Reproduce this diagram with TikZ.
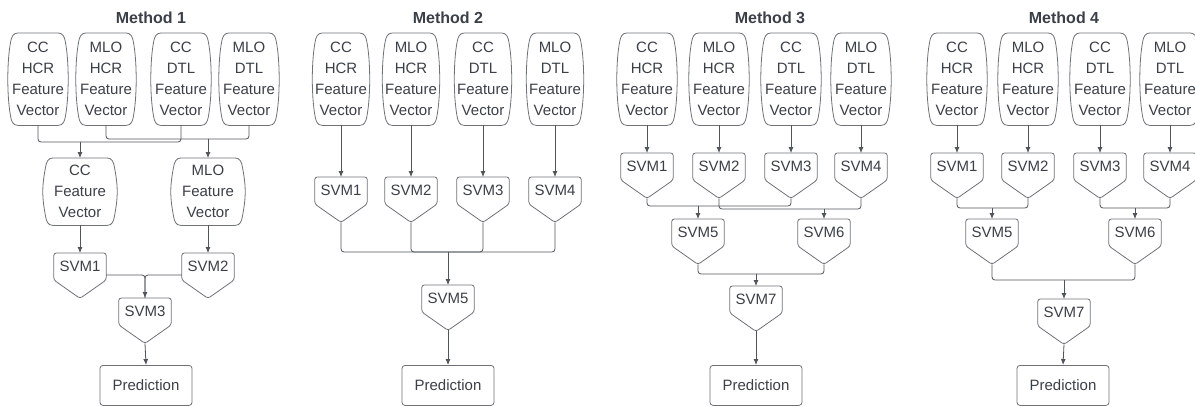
\documentclass[tikz,border=0pt]{standalone}
\usepackage{fontspec}
\setmainfont{Liberation Sans}
\usetikzlibrary{arrows.meta,calc}
\definecolor{txt}{HTML}{3B4048}
\definecolor{lin}{HTML}{50555C}
\definecolor{shp}{HTML}{6E7278}
\tikzset{
  shpline/.style={draw=shp, line width=0.8pt},
  fvnode/.style={inner sep=0pt, minimum width=#1, minimum height=92pt, align=center, text=txt,
     font=\fontsize{15}{21}\selectfont, anchor=north},
  fvnode/.default=60pt,
  fvsmall/.style={inner sep=0pt, minimum width=74pt, minimum height=67pt, align=center, text=txt,
     font=\fontsize{15}{21}\selectfont, anchor=north},
  svmnode/.style={inner sep=0pt, minimum width=52pt, text height=18.5pt, text depth=26.5pt, text=txt,
     font=\fontsize{15}{18}\selectfont, anchor=north},
  prednode/.style={draw=shp, line width=0.8pt, rounded corners=3pt, minimum width=92pt, minimum height=40pt,
     inner sep=0pt, text=txt, font=\fontsize{15}{18}\selectfont, anchor=north},
  titlenode/.style={text=txt, font=\fontsize{16}{18}\selectfont\bfseries, inner sep=0pt},
  conn/.style={draw=lin, line width=0.8pt, rounded corners=3pt},
  arr/.style={conn, -{Latex[length=6pt,width=5pt]}},
}
\newcommand\barrel[1]{%
\draw[shpline]
 ($(#1.north west)+(10,0)$) -- ($(#1.north east)+(-10,0)$)
 .. controls ($(#1.north east)+(-5,0)$) and ($(#1.north east)+(-3.6,4.7)$) .. ($(#1.north east)+(-3,8)$)
 .. controls ($(#1.north east)+(1,28)$) and ($(#1.south east)+(1,-28)$) .. ($(#1.south east)+(-3,-8)$)
 .. controls ($(#1.south east)+(-3.6,-4.7)$) and ($(#1.south east)+(-5,0)$) .. ($(#1.south east)+(-10,0)$)
 -- ($(#1.south west)+(10,0)$)
 .. controls ($(#1.south west)+(5,0)$) and ($(#1.south west)+(3.6,-4.7)$) .. ($(#1.south west)+(3,-8)$)
 .. controls ($(#1.south west)+(-1,-28)$) and ($(#1.north west)+(-1,28)$) .. ($(#1.north west)+(3,8)$)
 .. controls ($(#1.north west)+(3.6,4.7)$) and ($(#1.north west)+(5,0)$) .. cycle;}
\newcommand\svmshape[1]{%
\draw[shpline, rounded corners=2.5pt] (#1.north west) -- (#1.north east) -- ($(#1.north east)+(0,27)$)
  -- (#1.south) -- ($(#1.north west)+(0,27)$) -- cycle;}
\begin{document}
\begin{tikzpicture}[x=1pt, y=-1pt]
\useasboundingbox (0,0) rectangle (1195,407);
\clip (0,0) rectangle (1195,407);
\fill[white] (0,0) rectangle (1195,407);

% ---------------- Method 1 ----------------
\node[titlenode] (m1t) at (151,18) {Method 1};
\node[fvnode] (m1a) at (38,33) {CC\\HCR\\Feature\\Vector};
\node[fvnode] (m1b) at (106,33) {MLO\\HCR\\Feature\\Vector};
\node[fvnode] (m1c) at (181,33) {CC\\DTL\\Feature\\Vector};
\node[fvnode] (m1d) at (249,33) {MLO\\DTL\\Feature\\Vector};
\foreach \n in {m1a,m1b,m1c,m1d} {\barrel{\n}}
\node[fvsmall] (m1cc) at (80,158) {CC\\Feature\\Vector};
\node[fvsmall] (m1mlo) at (208,158) {MLO\\Feature\\Vector};
\barrel{m1cc}\barrel{m1mlo}
\node[svmnode] (m1s1) at (80,253) {SVM1};
\node[svmnode] (m1s2) at (208,253) {SVM2};
\node[svmnode] (m1s3) at (145,298) {SVM3};
\foreach \n in {m1s1,m1s2,m1s3} {\svmshape{\n}}
\node[prednode] (m1p) at (146,365) {Prediction};

\draw[conn] (m1a.south) |- ($(m1cc.north)+(0,-16)$);
\draw[conn] (m1c.south) |- ($(m1cc.north)+(0,-16)$);
\draw[arr] ($(m1cc.north)+(0,-16)$) -- (m1cc.north);
\draw[conn] (m1b.south) |- ($(m1mlo.north)+(0,-19)$);
\draw[conn] (m1d.south) |- ($(m1mlo.north)+(0,-19)$);
\draw[arr] ($(m1mlo.north)+(0,-19)$) -- (m1mlo.north);
\draw[arr] (m1cc.south) -- (m1s1.north);
\draw[arr] (m1mlo.south) -- (m1s2.north);
\draw[arr] ($(m1s1.north east)+(0,22)$) -| (m1s3.north);
\draw[conn] ($(m1s2.north west)+(0,22)$) -| (m1s3.north);
\draw[arr] (m1s3.south) -- (m1p.north);

% ---------------- Method 2 ----------------
\node[titlenode] (m2t) at (448,18) {Method 2};
\node[fvnode=57pt] (m2a) at (341,33) {CC\\HCR\\Feature\\Vector};
\node[fvnode=57pt] (m2b) at (411,33) {MLO\\HCR\\Feature\\Vector};
\node[fvnode=57pt] (m2c) at (483,33) {CC\\DTL\\Feature\\Vector};
\node[fvnode=57pt] (m2d) at (555,33) {MLO\\DTL\\Feature\\Vector};
\foreach \n in {m2a,m2b,m2c,m2d} {\barrel{\n}}
\node[svmnode] (m2s1) at (341,177) {SVM1};
\node[svmnode] (m2s2) at (411,177) {SVM2};
\node[svmnode] (m2s3) at (483,177) {SVM3};
\node[svmnode] (m2s4) at (555,177) {SVM4};
\node[svmnode] (m2s5) at (448,285) {SVM5};
\foreach \n in {m2s1,m2s2,m2s3,m2s4,m2s5} {\svmshape{\n}}
\node[prednode] (m2p) at (448,365) {Prediction};
\draw[arr] (m2a.south) -- (m2s1.north);
\draw[arr] (m2b.south) -- (m2s2.north);
\draw[arr] (m2c.south) -- (m2s3.north);
\draw[arr] (m2d.south) -- (m2s4.north);
\foreach \n in {m2s1,m2s2,m2s3,m2s4} {\draw[conn] (\n.south) |- ($(m2s5.north)+(0,-33)$);}
\draw[arr] ($(m2s5.north)+(0,-33)$) -- (m2s5.north);
\draw[arr] (m2s5.south) -- (m2p.north);

% ---------------- Method 3 ----------------
\node[titlenode] (m3t) at (770,18) {Method 3};
\node[fvnode] (m3a) at (647,33) {CC\\HCR\\Feature\\Vector};
\node[fvnode] (m3b) at (719,33) {MLO\\HCR\\Feature\\Vector};
\node[fvnode] (m3c) at (791,33) {CC\\DTL\\Feature\\Vector};
\node[fvnode] (m3d) at (861,33) {MLO\\DTL\\Feature\\Vector};
\foreach \n in {m3a,m3b,m3c,m3d} {\barrel{\n}}
\node[svmnode] (m3s1) at (647,153) {SVM1};
\node[svmnode] (m3s2) at (719,153) {SVM2};
\node[svmnode] (m3s3) at (791,153) {SVM3};
\node[svmnode] (m3s4) at (861,153) {SVM4};
\node[svmnode] (m3s5) at (698,219) {SVM5};
\node[svmnode] (m3s6) at (824,219) {SVM6};
\node[svmnode] (m3s7) at (756,286) {SVM7};
\foreach \n in {m3s1,m3s2,m3s3,m3s4,m3s5,m3s6,m3s7} {\svmshape{\n}}
\node[prednode] (m3p) at (756,365) {Prediction};
\draw[arr] (m3a.south) -- (m3s1.north);
\draw[arr] (m3b.south) -- (m3s2.north);
\draw[arr] (m3c.south) -- (m3s3.north);
\draw[arr] (m3d.south) -- (m3s4.north);
\draw[conn] (m3s1.south) |- ($(m3s5.north)+(0,-13)$);
\draw[conn] (m3s3.south) |- ($(m3s5.north)+(0,-13)$);
\draw[arr] ($(m3s5.north)+(0,-13)$) -- (m3s5.north);
\draw[conn] (m3s2.south) |- ($(m3s6.north)+(0,-10)$);
\draw[conn] (m3s4.south) |- ($(m3s6.north)+(0,-10)$);
\draw[arr] ($(m3s6.north)+(0,-10)$) -- (m3s6.north);
\draw[conn] (m3s5.south) |- ($(m3s7.north)+(0,-12)$);
\draw[conn] (m3s6.south) |- ($(m3s7.north)+(0,-12)$);
\draw[arr] ($(m3s7.north)+(0,-12)$) -- (m3s7.north);
\draw[arr] (m3s7.south) -- (m3p.north);

% ---------------- Method 4 ----------------
\node[titlenode] (m4t) at (1064,18) {Method 4};
\node[fvnode] (m4a) at (957,33) {CC\\HCR\\Feature\\Vector};
\node[fvnode] (m4b) at (1028,33) {MLO\\HCR\\Feature\\Vector};
\node[fvnode] (m4c) at (1100,33) {CC\\DTL\\Feature\\Vector};
\node[fvnode] (m4d) at (1170,33) {MLO\\DTL\\Feature\\Vector};
\foreach \n in {m4a,m4b,m4c,m4d} {\barrel{\n}}
\node[svmnode] (m4s1) at (957,153) {SVM1};
\node[svmnode] (m4s2) at (1028,153) {SVM2};
\node[svmnode] (m4s3) at (1100,153) {SVM3};
\node[svmnode] (m4s4) at (1170,153) {SVM4};
\node[svmnode] (m4s5) at (992,219) {SVM5};
\node[svmnode] (m4s6) at (1135,219) {SVM6};
\node[svmnode] (m4s7) at (1064,299) {SVM7};
\foreach \n in {m4s1,m4s2,m4s3,m4s4,m4s5,m4s6,m4s7} {\svmshape{\n}}
\node[prednode] (m4p) at (1063,365) {Prediction};
\draw[arr] (m4a.south) -- (m4s1.north);
\draw[arr] (m4b.south) -- (m4s2.north);
\draw[arr] (m4c.south) -- (m4s3.north);
\draw[arr] (m4d.south) -- (m4s4.north);
\draw[conn] (m4s1.south) |- ($(m4s5.north)+(0,-11)$);
\draw[conn] (m4s2.south) |- ($(m4s5.north)+(0,-11)$);
\draw[arr] ($(m4s5.north)+(0,-11)$) -- (m4s5.north);
\draw[conn] (m4s3.south) |- ($(m4s6.north)+(0,-11)$);
\draw[conn] (m4s4.south) |- ($(m4s6.north)+(0,-11)$);
\draw[arr] ($(m4s6.north)+(0,-11)$) -- (m4s6.north);
\draw[conn] (m4s5.south) |- ($(m4s7.north)+(0,-19)$);
\draw[conn] (m4s6.south) |- ($(m4s7.north)+(0,-19)$);
\draw[arr] ($(m4s7.north)+(0,-19)$) -- (m4s7.north);
\draw[arr] (m4s7.south) -- (m4p.north);
\end{tikzpicture}
\end{document}
